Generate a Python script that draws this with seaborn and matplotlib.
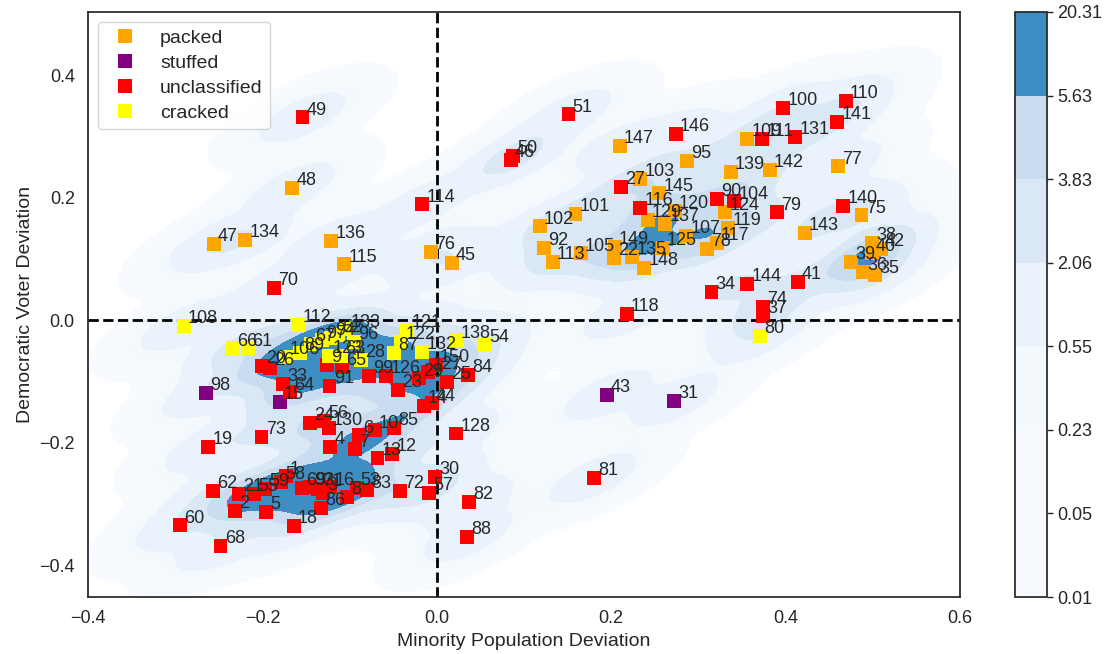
import numpy as np
import pandas as pd
import matplotlib
matplotlib.use("Agg")
import matplotlib.pyplot as plt
import seaborn as sns

# ==============================
# Data
# ==============================
packed_labels = [48, 47, 134, 136, 115, 76, 45, 147, 95, 103, 145, 129, 120, 137, 124, 119, 139, 109,
                 142, 77, 75, 143, 101, 102, 92, 113, 105, 149, 22, 135, 125, 148, 107, 78, 117,
                 38, 40, 42, 39, 36, 35]
packed_x = [-0.166, -0.256, -0.220, -0.121, -0.106, -0.007, 0.017, 0.210, 0.287, 0.233, 0.255, 0.242,
            0.273, 0.262, 0.331, 0.334, 0.337, 0.356, 0.382, 0.460, 0.487, 0.422, 0.159, 0.118, 0.123,
            0.133, 0.165, 0.204, 0.203, 0.224, 0.259, 0.238, 0.286, 0.310, 0.321,
            0.499, 0.499, 0.509, 0.475, 0.489, 0.503]
packed_y = [0.216, 0.124, 0.131, 0.129, 0.091, 0.111, 0.093, 0.284, 0.260, 0.230, 0.207, 0.163,
            0.178, 0.157, 0.176, 0.150, 0.242, 0.296, 0.245, 0.251, 0.171, 0.142, 0.173, 0.153, 0.118,
            0.095, 0.109, 0.119, 0.101, 0.103, 0.118, 0.085, 0.137, 0.116, 0.126,
            0.126, 0.109, 0.116, 0.095, 0.078, 0.073]

stuffed_labels = [98, 15, 43, 31]
stuffed_x = [-0.265, -0.180, 0.195, 0.272]
stuffed_y = [-0.119, -0.134, -0.122, -0.132]

cracked_labels = [108, 66, 61, 112, 133, 52, 121, 138, 54, 80, 106, 89, 67, 97, 94, 96, 123, 63,
                  28, 87, 132, 122]
cracked_x = [-0.290, -0.234, -0.217, -0.159, -0.104, -0.113, -0.034, 0.023, 0.055, 0.371, -0.173,
             -0.157, -0.144, -0.132, -0.121, -0.095, -0.124, -0.110, -0.087, -0.049, -0.017, -0.041]
cracked_y = [-0.010, -0.046, -0.046, -0.008, -0.015, -0.024, -0.016, -0.033, -0.041, -0.026, -0.060,
             -0.054, -0.039, -0.033, -0.029, -0.036, -0.059, -0.059, -0.065, -0.054, -0.052, -0.036]

unclassified_labels = [49, 70, 114, 51, 50, 46, 146, 27, 116, 90, 104, 100, 110, 141, 131, 111, 79,
                       140, 34, 144, 41, 118, 74, 37, 81, 128, 30, 57, 82, 88, 72, 53, 83, 8, 16,
                       86, 6, 10, 85, 7, 13, 12, 4, 24, 56, 130, 20, 26, 33, 64, 91, 9, 65, 99,
                       126, 29, 127, 150, 25, 84, 23, 14, 44, 73, 19, 62, 2, 21, 55, 59, 58, 1,
                       69, 93, 71, 3, 5, 18, 60, 68]
unclassified_x = [-0.154, -0.187, -0.017, 0.151, 0.087, 0.085, 0.274, 0.211, 0.233, 0.321, 0.341,
                  0.397, 0.469, 0.459, 0.411, 0.373, 0.390, 0.466, 0.315, 0.356, 0.414, 0.218,
                  0.374, 0.374, 0.180, 0.022, -0.002, -0.009, 0.037, 0.035, -0.042, -0.092, -0.080,
                  -0.103, -0.122, -0.133, -0.089, -0.071, -0.049, -0.094, -0.068, -0.051, -0.122,
                  -0.145, -0.129, -0.124, -0.200, -0.191, -0.176, -0.168, -0.123, -0.126, -0.109,
                  -0.078, -0.058, -0.020, -0.010, -0.001, 0.012, 0.036, -0.045, -0.015, -0.006,
                  -0.201, -0.262, -0.257, -0.231, -0.227, -0.210, -0.197, -0.179, -0.173, -0.155,
                  -0.145, -0.136, -0.130, -0.196, -0.164, -0.295, -0.248]
unclassified_y = [0.331, 0.052, 0.189, 0.336, 0.268, 0.261, 0.304, 0.217, 0.183, 0.198, 0.194,
                  0.346, 0.358, 0.323, 0.299, 0.296, 0.176, 0.186, 0.046, 0.059, 0.062, 0.010,
                  0.021, 0.007, -0.258, -0.185, -0.256, -0.282, -0.297, -0.354, -0.279, -0.274,
                  -0.278, -0.289, -0.273, -0.307, -0.188, -0.180, -0.176, -0.211, -0.225, -0.219,
                  -0.207, -0.168, -0.165, -0.176, -0.075, -0.078, -0.104, -0.118, -0.108, -0.073,
                  -0.077, -0.091, -0.091, -0.095, -0.085, -0.073, -0.101, -0.090, -0.114, -0.140,
                  -0.136, -0.191, -0.207, -0.279, -0.312, -0.284, -0.284, -0.276, -0.264, -0.255,
                  -0.274, -0.273, -0.276, -0.282, -0.313, -0.336, -0.335, -0.369]

categories = ["packed", "stuffed", "unclassified", "cracked"]
palette = {"packed": "orange", "stuffed": "purple", "unclassified": "red", "cracked": "yellow"}
density_levels = [0.01, 0.05, 0.23, 0.55, 2.06, 3.83, 5.63, 20.31]

df = pd.concat([
    pd.DataFrame({"label": packed_labels, "x": packed_x, "y": packed_y, "type": "packed"}),
    pd.DataFrame({"label": stuffed_labels, "x": stuffed_x, "y": stuffed_y, "type": "stuffed"}),
    pd.DataFrame({"label": unclassified_labels, "x": unclassified_x, "y": unclassified_y, "type": "unclassified"}),
    pd.DataFrame({"label": cracked_labels, "x": cracked_x, "y": cracked_y, "type": "cracked"}),
], ignore_index=True)

# ==============================
# Density of the points (gaussian kde)
# ==============================
def kde_grid(xs, ys, gx, gy, adjust=0.34):
    data = np.vstack([xs, ys])
    n = data.shape[1]
    factor = n ** (-1.0 / 6) * adjust
    cov = np.cov(data) * factor ** 2
    inv = np.linalg.inv(cov)
    norm = 1.0 / (2 * np.pi * np.sqrt(np.linalg.det(cov)) * n)
    dx = gx[..., None] - xs
    dy = gy[..., None] - ys
    q = inv[0, 0] * dx ** 2 + 2 * inv[0, 1] * dx * dy + inv[1, 1] * dy ** 2
    return norm * np.exp(-0.5 * q).sum(axis=-1)

xlim = (-0.4, 0.6)
ylim = (-0.452, 0.503)
gx, gy = np.meshgrid(np.linspace(*xlim, 300), np.linspace(*ylim, 300))
dens = kde_grid(df["x"].values, df["y"].values, gx, gy)
dens = np.minimum(dens, density_levels[-1] - 1e-6)

# ==============================
# Plot
# ==============================
sns.set_theme(style="white")
plt.rcParams["font.family"] = ["Liberation Sans", "DejaVu Sans"]

fig = plt.figure(figsize=(11.18, 6.54), dpi=100)
ax = fig.add_axes([88 / 1118, 57 / 654, 872 / 1118, 585 / 654])
cax = fig.add_axes([1015 / 1118, 57 / 654, 32 / 1118, 585 / 654])

cs = ax.contourf(gx, gy, dens, levels=density_levels, cmap="Blues", zorder=0)
cb = fig.colorbar(cs, cax=cax, format="%.2f")
cb.ax.tick_params(labelsize=13, length=4, width=1, color="#262626")
cb.outline.set_edgecolor("#262626")

ax.axhline(0, color="black", linestyle="--", linewidth=2, zorder=1)
ax.axvline(0, color="black", linestyle="--", linewidth=2, zorder=1)

sns.scatterplot(data=df, x="x", y="y", hue="type", hue_order=categories, palette=palette,
                marker="s", s=100, linewidth=0, ax=ax, zorder=3)

for _, row in df.iterrows():
    ax.annotate(str(row["label"]), (row["x"], row["y"]), xytext=(3, 2), textcoords="offset points",
                fontsize=13, color="#262626", zorder=4)

ax.set_xlim(*xlim)
ax.set_ylim(*ylim)
ax.set_xticks([-0.4, -0.2, 0.0, 0.2, 0.4, 0.6])
ax.set_yticks([-0.4, -0.2, 0.0, 0.2, 0.4])
ax.tick_params(labelsize=13)
ax.set_xlabel("Minority Population Deviation", fontsize=14)
ax.set_ylabel("Democratic Voter Deviation", fontsize=14)
for sp in ax.spines.values():
    sp.set_color("#262626")

handles, labels = ax.get_legend_handles_labels()
ax.legend(handles, labels, loc="upper left", fontsize=14, labelspacing=0.37)

fig.savefig("out.png", dpi=100)
